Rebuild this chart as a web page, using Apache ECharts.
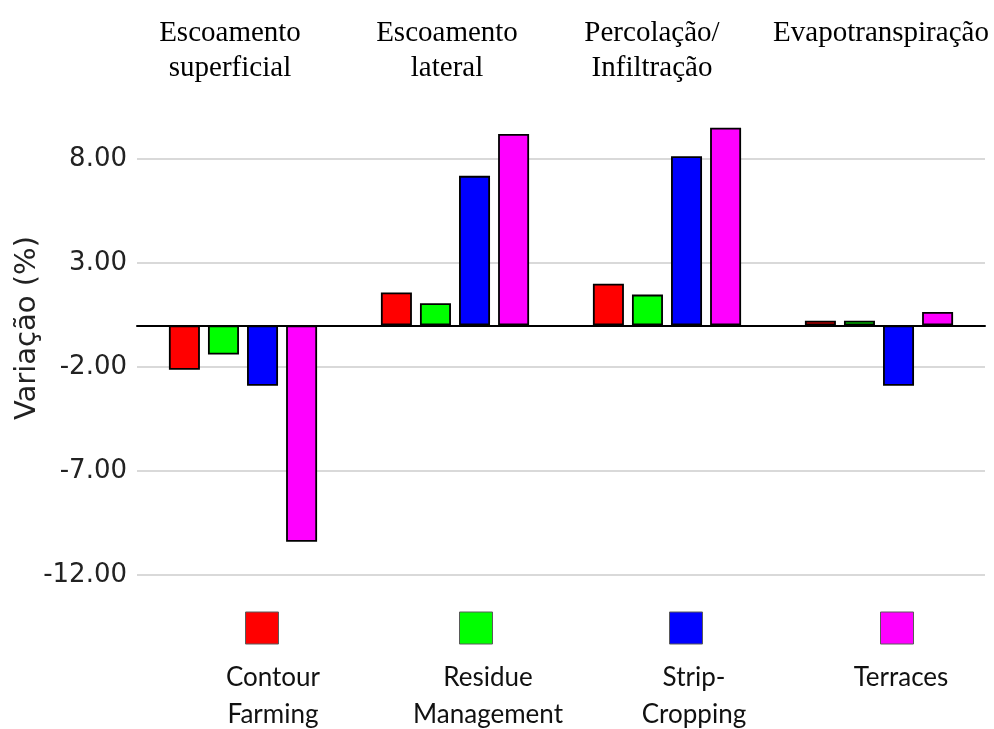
<!DOCTYPE html>
<html>
<head>
<meta charset="utf-8">
<script src="https://cdn.jsdelivr.net/npm/echarts@6/dist/echarts.min.js"></script>
<style>
  html, body { margin: 0; padding: 0; background: #ffffff; }
  #chart { width: 994px; height: 729px; }
</style>
</head>
<body>
<div id="chart"></div>
<script>
// Hydrological components (category groups)
const categories = ['Escoamento\nsuperficial', 'Escoamento\nlateral', 'Percolação/\nInfiltração', 'Evapotranspiração'];

// Conservation practices
const seriesNames = ['Contour Farming', 'Residue Management', 'Strip-Cropping', 'Terraces'];
const legendLabels = ['Contour\nFarming', 'Residue\nManagement', 'Strip-\nCropping', 'Terraces'];

// Variation (%) per practice, one value per category
const contourFarming = [-2.13, 1.58, 2.0, 0.22];
const residueManagement = [-1.4, 1.07, 1.48, 0.22];
const stripCropping = [-2.9, 7.19, 8.13, -2.9];
const terraces = [-10.4, 9.2, 9.5, 0.65];

// Y axis tick values
const yTicks = [-12, -7, -2, 3, 8];

const yTitle = 'Variação (%)';

// ---- styling / layout ----
const seriesValues = [contourFarming, residueManagement, stripCropping, terraces];
const seriesColors = ['#ff0000', '#00ff00', '#0000ff', '#ff00ff'];
const legendSquareX = [262, 476, 686, 897];
const legendTextX = [273, 488, 694, 901];
// horizontal nudge of each group heading (padding [top, right, bottom, left])
const headingPadding = [[0, 26, 0, 0], [0, 16, 0, 0], [0, 30, 0, 0], [0, 0, 0, 4]];

const chart = echarts.init(document.getElementById('chart'), null, { renderer: 'canvas' });

const graphics = [{
  type: 'text',
  x: 27, y: 328,
  rotation: Math.PI / 2,
  style: {
    text: yTitle,
    font: '29px "DejaVu Sans"',
    fill: '#222',
    align: 'center',
    verticalAlign: 'middle'
  }
}];

seriesNames.forEach((name, i) => {
  graphics.push({
    type: 'rect',
    shape: { x: legendSquareX[i] - 16.5, y: 612, width: 33, height: 32 },
    style: { fill: seriesColors[i], stroke: '#5a5a5a', lineWidth: 1 }
  });
  graphics.push({
    type: 'text',
    x: legendTextX[i], y: 659,
    style: {
      text: legendLabels[i],
      font: '26px Lato',
      lineHeight: 37,
      fill: '#111',
      align: 'center',
      verticalAlign: 'top'
    }
  });
});

const headingStyle = {
  verticalAlign: 'top',
  fontFamily: '"Liberation Serif"',
  fontSize: 29,
  lineHeight: 35,
  color: '#000'
};

const option = {
  backgroundColor: '#ffffff',
  animation: false,
  grid: { left: 137, right: 9, top: 117.4, bottom: 154, containLabel: false, outerBoundsMode: 'none' },
  xAxis: [{
    type: 'category',
    data: categories,
    axisLine: { show: true, onZero: true, lineStyle: { color: '#000', width: 2 } },
    axisTick: { show: false },
    axisLabel: { show: false },
    splitLine: { show: false },
    z: 10
  }, {
    type: 'category',
    data: categories.map((c, i) => ({
      value: c,
      textStyle: Object.assign({}, headingStyle, { padding: headingPadding[i] })
    })),
    position: 'top',
    axisLine: { show: false },
    axisTick: { show: false },
    splitLine: { show: false },
    axisLabel: Object.assign({ interval: 0, margin: 102 }, headingStyle)
  }],
  yAxis: {
    type: 'value',
    min: -12,
    max: 10,
    axisLine: { show: false },
    axisTick: { show: false, customValues: yTicks },
    axisLabel: {
      customValues: yTicks,
      formatter: v => v.toFixed(2),
      fontFamily: '"DejaVu Sans"',
      fontSize: 26,
      color: '#222',
      margin: 10
    },
    splitLine: { show: true, lineStyle: { color: '#d9d9d9', width: 2 } }
  },
  series: seriesNames.map((name, i) => ({
    name: name,
    type: 'bar',
    data: seriesValues[i],
    barWidth: 31,
    barGap: '26%',
    itemStyle: { color: seriesColors[i], borderColor: '#000', borderWidth: 1.8 }
  })),
  graphic: graphics
};

chart.setOption(option);
</script>
</body>
</html>
